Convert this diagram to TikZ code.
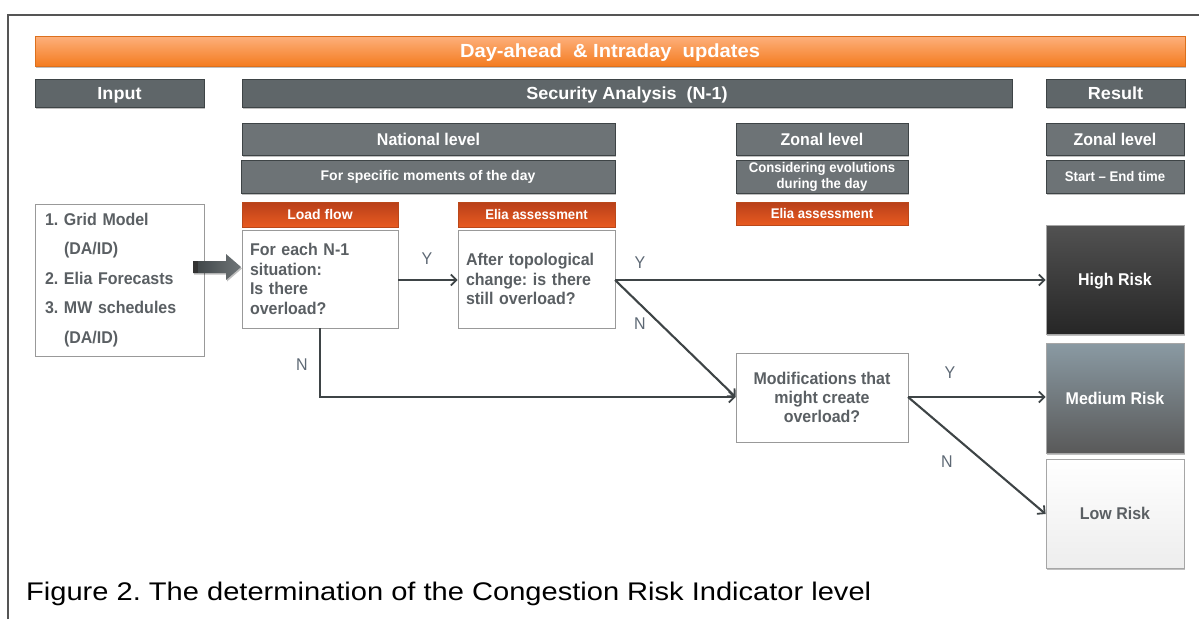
\documentclass[tikz,border=0pt]{standalone}
\usepackage{fontspec}
\setmainfont{Liberation Sans}
\newfontfamily\fa[FakeStretch=0.94,Ligatures=TeX]{Liberation Sans}
\newfontfamily\fb[FakeStretch=1.03,Ligatures=TeX]{Liberation Sans}
\newfontfamily\fc[FakeStretch=1.0,Ligatures=TeX]{Liberation Sans}
\newfontfamily\fd[FakeStretch=1.06,Ligatures=TeX]{Liberation Sans}
\newfontfamily\fcap[FakeStretch=1.14,Ligatures=TeX]{Liberation Sans}
\usetikzlibrary{arrows.meta,shadows}
\frenchspacing
\definecolor{hdr}{HTML}{5F6669}
\definecolor{hdrB}{HTML}{6D7376}
\definecolor{orgT}{HTML}{FDB07C}
\definecolor{orgB}{HTML}{F47C20}
\definecolor{redT}{HTML}{B8401A}
\definecolor{redB}{HTML}{E85A20}
\definecolor{txt}{HTML}{5A5F63}
\definecolor{lbl}{HTML}{5D6874}
\definecolor{ln}{HTML}{3E4446}
\definecolor{frm}{HTML}{555555}
\tikzset{
  shd/.style={drop shadow={shadow xshift=1pt,shadow yshift=-1.5pt,opacity=0.25,fill=black}},
  one/.style={text height=#1,text depth=0pt},
  hdrbox/.style={draw=ln,line width=0.8pt,fill=hdr,text=white,inner sep=0pt,shd,one=12.6pt,
     font=\fb\bfseries\fontsize{17.5}{19}\selectfont},
  subbox/.style={draw=ln,line width=0.8pt,fill=hdrB,text=white,inner sep=0pt,shd,
     font=\fa\bfseries\fontsize{17}{19}\selectfont},
  smallbox/.style={subbox,font=\fc\bfseries\fontsize{14}{16}\selectfont,align=center},
  redbox/.style={draw=redB!80!black,line width=0.5pt,top color=redT,bottom color=redB,text=white,inner sep=0pt,one=10pt,
     font=\fc\bfseries\fontsize{14}{16}\selectfont},
  qbox/.style={draw=gray!80,line width=0.8pt,fill=white,text=txt,inner sep=0pt,
     font=\fa\bfseries\fontsize{17}{19.5}\selectfont},
  riskbox/.style={draw=gray!70,line width=0.8pt,inner sep=0pt,shd,one=12.2pt,
     font=\fa\bfseries\fontsize{17}{19}\selectfont,minimum width=138pt},
  yn/.style={text=lbl,font=\fa\fontsize{17}{19}\selectfont,inner sep=0pt,one=12.2pt},
  conn/.style={draw=ln,line width=2.1pt,-{Straight Barb[length=5.5pt,width=11pt,line width=1.8pt]}},
}
\begin{document}
\begin{tikzpicture}[x=1pt,y=-1pt]
\useasboundingbox (0,0) rectangle (1199,619);
% frame
\draw[frm,line width=2pt] (8,619) -- (8,15) -- (1199,15);
% top bar
\node[shd,top color=orgT,bottom color=orgB,draw=orgB!90!black,line width=0.5pt,minimum width=1150pt,minimum height=30pt,inner sep=0pt,one=13.7pt,
      text=white,font=\fd\bfseries\fontsize{19}{20}\selectfont] (bar) at (610,51) {Day-ahead \ \& Intraday \ updates};
% column headers
\node[hdrbox,minimum width=169pt,minimum height=28pt] (input) at (119.5,93) {Input};
\node[hdrbox,minimum width=770pt,minimum height=28pt] (sec) at (627,93) {Security Analysis \ (N-1)};
\node[hdrbox,minimum width=139pt,minimum height=28pt] (res) at (1115.5,93) {Result};
% level headers
\node[subbox,one=12.2pt,minimum width=373pt,minimum height=32pt] (nat) at (428.5,139) {National level};
\node[smallbox,minimum width=374pt,minimum height=33pt] (spec) at (428,176.5) {For specific moments of the day};
\node[smallbox,minimum width=172pt,minimum height=33pt,font=\fa\bfseries\fontsize{14}{16}\selectfont] (cons) at (822,176.5) {Considering evolutions\\during the day};
\node[subbox,one=12.2pt,minimum width=172pt,minimum height=32pt] (zon) at (822,139) {Zonal level};
\node[subbox,one=12.2pt,minimum width=138pt,minimum height=32pt] (zonr) at (1115,139) {Zonal level};
\node[smallbox,minimum width=138pt,minimum height=33pt,font=\fa\bfseries\fontsize{14}{16}\selectfont] (sete) at (1115,176.5) {Start – End time};
% red labels
\node[redbox,minimum width=156pt,minimum height=25pt] (lf) at (320,214.5) {Load flow};
\node[redbox,minimum width=157pt,minimum height=25pt,font=\fa\bfseries\fontsize{14}{16}\selectfont] (ea1) at (536.5,214.5) {Elia assessment};
\node[redbox,minimum width=172pt,minimum height=23pt,font=\fa\bfseries\fontsize{14}{16}\selectfont] (ea2) at (822,213.5) {Elia assessment};
% input list
\node[qbox,minimum width=169pt,minimum height=152pt,text width=155pt,align=left,font=\fa\bfseries\fontsize{17}{29.5}\selectfont] (inlist) at (119.5,280)
  {\hspace*{3pt}1. Grid Model\\ \hspace*{22pt}(DA/ID)\\ \hspace*{3pt}2. Elia Forecasts\\ \hspace*{3pt}3. MW schedules\\ \hspace*{22pt}(DA/ID)};
% question boxes
\node[qbox,minimum width=156pt,minimum height=98pt,text width=140pt,align=left] (q1) at (320,279) {For each N-1\\situation:\\Is there\\overload?};
\node[qbox,minimum width=157pt,minimum height=98pt,text width=141pt,align=left] (q2) at (536.5,279) {After topological\\change: is there\\still overload?};
\node[qbox,minimum width=172pt,minimum height=89pt,align=center,font=\fa\bfseries\fontsize{17}{19}\selectfont] (q3) at (822,397.5) {Modifications that\\might create\\overload?};
% risk boxes
\node[riskbox,minimum height=109pt,top color=black!68,bottom color=black!85,text=white] (high) at (1115,279.5) {High Risk};
\node[riskbox,minimum height=110pt,top color={rgb,255:red,138;green,154;blue,163},bottom color=black!65,text=white] (med) at (1115,398) {Medium Risk};
\node[riskbox,minimum height=109pt,top color=white,bottom color=black!7,text=txt] (low) at (1115,513.5) {Low Risk};
% block arrow from input list to first question
\coordinate (bt) at (193,267);
\coordinate (btip) at (241,267);
\path[shd,left color=ln,right color=hdr!90!white]
  (bt) ++(0,-6) -- (226,261) -- (226,254) -- (btip) -- (226,280) -- (226,273) -- (193,273) -- cycle;
\fill[black!80] (bt) ++(0,-6) rectangle (198,273);
% connectors
\coordinate (q1b) at (320,328);
\coordinate (q2r) at (615,280);
\coordinate (q3r) at (908,397);
\draw[conn] (q1.east |- 0,280) -- (q2.west |- 0,280);
\draw[conn] (q2r) -- (high.west |- q2r);
\draw[conn] (q2r) -- (q3.west |- 0,397);
\draw[conn] (q1b) -- (320,397) -- (q3.west |- 0,397);
\draw[conn] (q3r) -- (med.west |- q3r);
\draw[conn] (q3r) -- (low.west |- 0,514);
% labels
\node[yn] (y1) at (427,258) {Y};
\node[yn] (y2) at (640,262) {Y};
\node[yn] (n2) at (640,323) {N};
\node[yn] (n1) at (302,364) {N};
\node[yn] (y3) at (950,372) {Y};
\node[yn] (n3) at (947,461) {N};
% caption
\node[anchor=west,inner sep=0pt,font=\fcap\fontsize{25.5}{28}\selectfont] (cap) at (26,594) {Figure 2. The determination of the Congestion Risk Indicator level};
\end{tikzpicture}
\end{document}
